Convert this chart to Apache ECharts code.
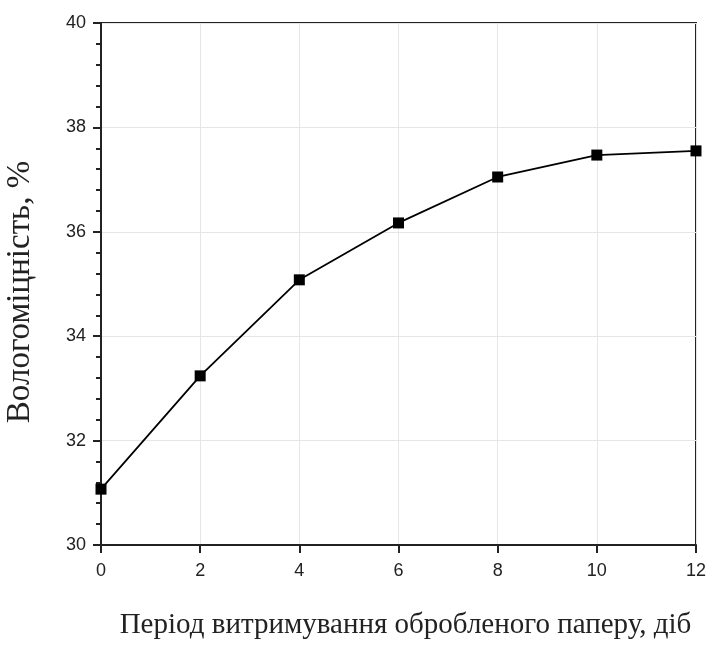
<!DOCTYPE html>
<html>
<head>
<meta charset="utf-8">
<script src="https://cdn.jsdelivr.net/npm/echarts@6/dist/echarts.min.js"></script>
<style>
  html, body { margin: 0; padding: 0; background: #fff; }
  #chart { width: 708px; height: 645px; }
</style>
</head>
<body>
<div id="chart"></div>
<script>
// Holding period of treated paper (days) vs. wet strength (%)
const days = [0, 2, 4, 6, 8, 10, 12];
const wetStrength = [31.07, 33.24, 35.08, 36.17, 37.05, 37.47, 37.55];
const xTitle = 'Період витримування обробленого паперу, діб';
const yTitle = 'Вологоміцність, %';

const chart = echarts.init(document.getElementById('chart'), null, { renderer: 'canvas' });

const tickFont = { fontFamily: 'Liberation Sans, Arial, sans-serif', fontSize: 18, color: '#222' };
const serif = 'Liberation Serif, Times New Roman, serif';

chart.setOption({
  animation: false,
  backgroundColor: '#fff',
  grid: {
    left: 101, right: 12, top: 23, bottom: 100,
    outerBoundsMode: 'none', containLabel: false,
    show: true, borderColor: '#222', borderWidth: 2
  },
  xAxis: {
    type: 'value', min: 0, max: 12, interval: 2,
    name: xTitle, nameLocation: 'middle', nameGap: 66,
    nameTextStyle: { fontFamily: serif, fontSize: 29, color: '#222', padding: [0, 0, 0, 14] },
    axisLine: { show: true, lineStyle: { color: '#222', width: 2 } },
    axisTick: { show: true, inside: false, length: 8, lineStyle: { color: '#222', width: 2 } },
    axisLabel: Object.assign({ margin: 17 }, tickFont),
    splitLine: { show: true, lineStyle: { color: '#e6e6e6', width: 1 } }
  },
  yAxis: {
    type: 'value', min: 30, max: 40, interval: 2,
    name: yTitle, nameLocation: 'middle', nameGap: 64,
    nameTextStyle: { fontFamily: serif, fontSize: 33, color: '#222', padding: [0, 16, 0, 0] },
    axisLine: { show: true, lineStyle: { color: '#222', width: 2 } },
    axisTick: { show: true, inside: false, length: 8, lineStyle: { color: '#222', width: 2 } },
    minorTick: { show: true, splitNumber: 5, length: 5, lineStyle: { color: '#222', width: 2 } },
    axisLabel: Object.assign({ margin: 15 }, tickFont),
    splitLine: { show: true, lineStyle: { color: '#e6e6e6', width: 1 } }
  },
  series: [{
    type: 'line',
    data: days.map((d, i) => [d, wetStrength[i]]),
    symbol: 'rect', symbolSize: 11,
    itemStyle: { color: '#000' },
    lineStyle: { color: '#000', width: 1.8 },
    clip: false
  }]
});
</script>
</body>
</html>
